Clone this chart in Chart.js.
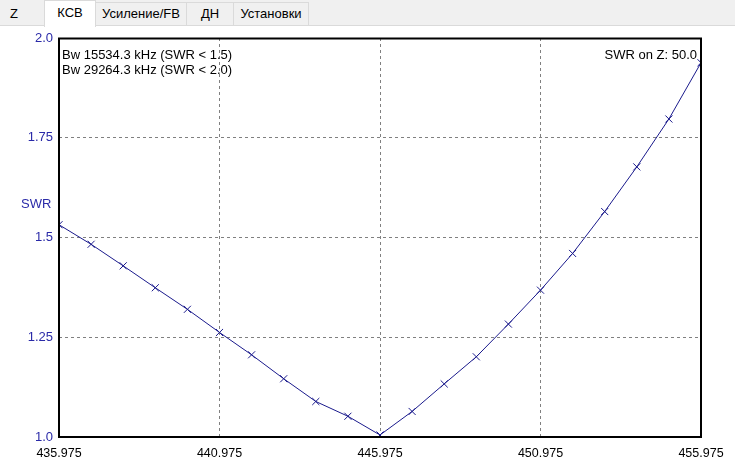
<!DOCTYPE html>
<html>
<head>
<meta charset="utf-8">
<script src="https://cdn.jsdelivr.net/npm/chart.js@4/dist/chart.umd.min.js"></script>
<style>
  body { margin: 0; background: #fff; font-family: "Liberation Sans", Arial, sans-serif; }
  #wrap { position: relative; width: 735px; height: 468px; overflow: hidden; }
  #grafico { position: absolute; left: 0; top: 0; }
  .abas { position: absolute; left: 0; top: 0; width: 735px; height: 25px; background: #f0f0f0; border-bottom: 1px solid #dadada; }
  .aba { position: absolute; top: 2px; height: 22px; line-height: 22px; font-size: 13px; color: #000; text-align: center; border: 1px solid #dadada; border-bottom: none; background: #f0f0f0; }
  .aba.ativa { top: 0; height: 26px; line-height: 24px; background: #fff; z-index: 2; }
</style>
</head>
<body>
<div id="wrap">
  <canvas id="grafico" width="735" height="468"></canvas>
  <div class="abas">
    <div class="aba" style="left:0; width:26px; border-color:transparent;">Z</div>
    <div class="aba ativa" style="left:44px; width:50px;">КСВ</div>
    <div class="aba" style="left:95px; width:90px;">Усиление/FB</div>
    <div class="aba" style="left:186px; width:46px;">ДН</div>
    <div class="aba" style="left:233px; width:74px;">Установки</div>
  </div>
</div>
<script>
const frequencias = [435.975, 436.975, 437.975, 438.975, 439.975, 440.975, 441.975, 442.975, 443.975, 444.975,
  445.975, 446.975, 447.975, 448.975, 449.975, 450.975, 451.975, 452.975, 453.975, 454.975, 455.975];
const valoresSWR = [1.532, 1.483, 1.429, 1.374, 1.320, 1.262, 1.206, 1.146, 1.089, 1.052,
  1.005, 1.064, 1.133, 1.201, 1.283, 1.368, 1.460, 1.565, 1.677, 1.797, 1.938];

const ticksX = [435.975, 440.975, 445.975, 450.975, 455.975];
const ticksY = [1.0, 1.25, 1.5, 1.75, 2.0];
const rotulosY = ["1.0", "1.25", "1.5", "1.75", "2.0"];

const textoBanda = ["Bw 15534.3 kHz (SWR < 1.5)", "Bw 29264.3 kHz (SWR < 2.0)"];
const textoZ = "SWR on Z: 50.0";
const tituloY = "SWR";

const azul = "#2a2aa8";
const fonte = "Liberation Sans, Arial, sans-serif";

const gradeCor = (ctx) => {
  const n = ctx.scale.ticks.length;
  return (ctx.index === 0 || ctx.index === n - 1) ? "rgba(0,0,0,0)" : "#808080";
};

const moldura = {
  id: "moldura",
  afterDraw(chart) {
    const { ctx, chartArea } = chart;
    ctx.save();
    ctx.setLineDash([]);
    ctx.strokeStyle = "#000";
    ctx.lineWidth = 2;
    ctx.strokeRect(chartArea.left, chartArea.top + 0.5, chartArea.right - chartArea.left, chartArea.bottom - chartArea.top - 0.5);

    ctx.font = "13px " + fonte;
    ctx.fillStyle = "#000";
    ctx.textBaseline = "alphabetic";
    ctx.textAlign = "left";
    ctx.fillText(textoBanda[0], chartArea.left + 3, 59);
    ctx.fillText(textoBanda[1], chartArea.left + 3, 74);
    ctx.textAlign = "right";
    ctx.fillText(textoZ, chartArea.right - 4, 59);

    ctx.fillStyle = azul;
    ctx.textAlign = "left";
    ctx.fillText(tituloY, 21, 208);
    ctx.restore();
  }
};

const grafico = document.getElementById("grafico");
const graficoSWR = new Chart(grafico, {
  type: "line",
  data: {
    datasets: [{
      label: "SWR",
      data: frequencias.map((f, i) => ({ x: f, y: valoresSWR[i] })),
      borderColor: "#1a1a8c",
      borderWidth: 1,
      pointStyle: "crossRot",
      pointRadius: 5,
      pointBorderColor: "#1a1a8c",
      pointBorderWidth: 1,
      tension: 0
    }]
  },
  options: {
    responsive: false,
    animation: false,
    events: [],
    layout: { padding: { top: 38, right: 34, left: 0, bottom: 0 } },
    plugins: { legend: { display: false }, tooltip: { enabled: false } },
    scales: {
      x: {
        type: "linear",
        min: 435.975,
        max: 455.975,
        afterBuildTicks: (scale) => { scale.ticks = ticksX.map(v => ({ value: v })); },
        afterFit: (scale) => { scale.height = 31; },
        ticks: {
          padding: 9,
          color: "#000",
          font: { family: fonte, size: 12.5 },
          maxRotation: 0,
          autoSkip: false,
          callback: (v) => v.toFixed(3)
        },
        grid: { color: gradeCor, lineWidth: 1, drawTicks: false },
        border: { display: false, dash: [3, 3] }
      },
      y: {
        min: 1,
        max: 2,
        afterBuildTicks: (scale) => { scale.ticks = ticksY.map(v => ({ value: v })); },
        afterFit: (scale) => { scale.width = 59; },
        ticks: {
          padding: 6,
          color: azul,
          font: { family: fonte, size: 13 },
          callback: (v, i) => rotulosY[i]
        },
        grid: { color: gradeCor, lineWidth: 1, drawTicks: false },
        border: { display: false, dash: [3, 3] }
      }
    }
  },
  plugins: [moldura]
});
</script>
</body>
</html>
